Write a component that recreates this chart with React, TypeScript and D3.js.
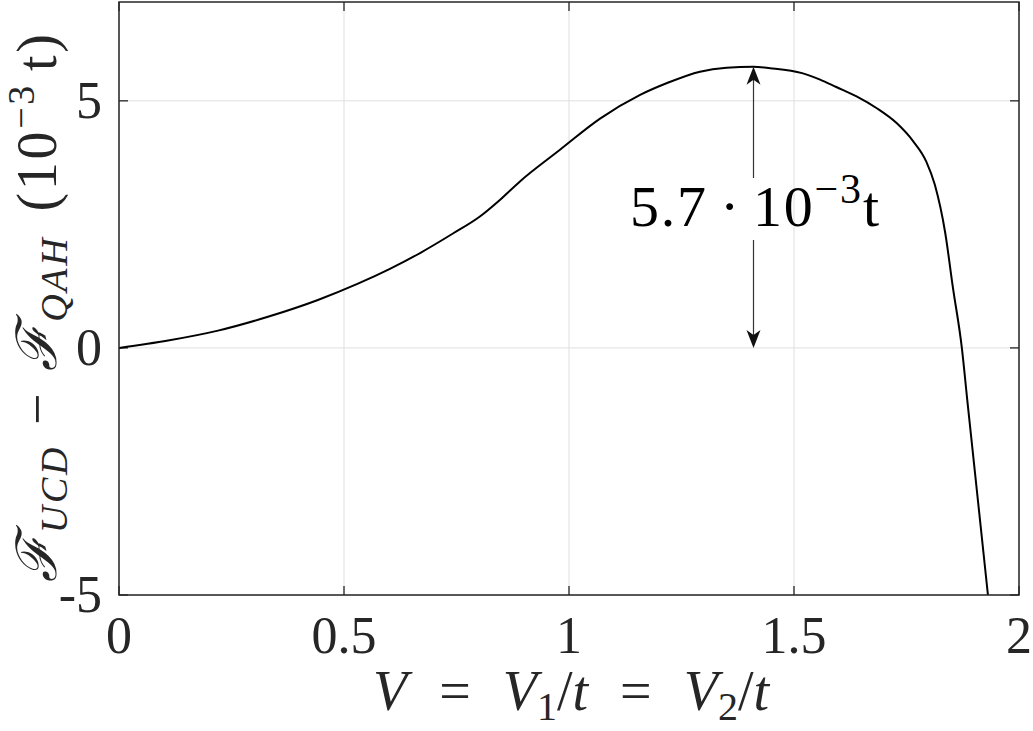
import React from "react";
import * as d3 from "d3";

const vValues = [0, 0.109, 0.22, 0.331, 0.442, 0.531, 0.602, 0.669, 0.743, 0.802, 0.847, 0.891, 0.98, 1.069, 1.158, 1.218, 1.291, 1.35, 1.41, 1.447, 1.518, 1.558, 1.594, 1.639, 1.684, 1.728, 1.765, 1.794, 1.813, 1.836, 1.853, 1.873, 1.885, 1.931];
const fDiff = [0, 0.15, 0.35, 0.63, 0.97, 1.30, 1.60, 1.92, 2.32, 2.66, 3.0, 3.37, 4.01, 4.64, 5.12, 5.36, 5.59, 5.67, 5.69, 5.66, 5.56, 5.43, 5.28, 5.09, 4.85, 4.55, 4.18, 3.77, 3.30, 2.33, 1.23, 0, -1.05, -5];
const xTicks = [0, 0.5, 1, 1.5, 2];
const xTickLabels = ["0", "0.5", "1", "1.5", "2"];
const yTicks = [-5, 0, 5];
const yTickLabels = ["-5", "0", "5"];
const peakV = 1.41;
const peakF = 5.69;

const W = 1033, H = 731;
const L = 119, R = 1019, T = 2, B = 595;
const FONT = "'Liberation Serif', 'DejaVu Serif', serif";

export default function App() {
  const x = d3.scaleLinear().domain([0, 2]).range([L, R]);
  const y = d3.scaleLinear().domain([-5, 7]).range([B, T]);
  const pts = vValues.map((v, i) => [v, fDiff[i]] as [number, number]);
  const line = d3.line<[number, number]>().x(d => x(d[0])).y(d => y(d[1])).curve(d3.curveMonotoneX);
  const ax = x(peakV);
  const topY = y(peakF);
  const botY = y(0);
  const headL = 18, headW = 7, notch = 5;
  const upHead = `M${ax},${topY} L${ax - headW},${topY + headL} L${ax},${topY + headL - notch} L${ax + headW},${topY + headL} Z`;
  const downHead = `M${ax},${botY} L${ax - headW},${botY - headL} L${ax},${botY - headL + notch} L${ax + headW},${botY - headL} Z`;
  return (
    <svg width={W} height={H} style={{ position: "absolute", left: 0, top: 0, background: "#fff" }}>
      <defs>
        <clipPath id="plotclip"><rect x={L} y={T} width={R - L} height={B - T} /></clipPath>
      </defs>
      <rect x={0} y={0} width={W} height={H} fill="#fff" />
      {xTicks.map(t => (
        <line key={"gx" + t} x1={x(t)} x2={x(t)} y1={T} y2={B} stroke="#dfdfdf" strokeWidth={1} />
      ))}
      {yTicks.map(t => (
        <line key={"gy" + t} x1={L} x2={R} y1={y(t)} y2={y(t)} stroke="#dfdfdf" strokeWidth={1} />
      ))}
      {xTicks.map(t => (
        <g key={"tx" + t}>
          <line x1={x(t)} x2={x(t)} y1={B} y2={B - 9} stroke="#262626" strokeWidth={1.3} />
          <line x1={x(t)} x2={x(t)} y1={T} y2={T + 9} stroke="#262626" strokeWidth={1.3} />
        </g>
      ))}
      {yTicks.map(t => (
        <g key={"ty" + t}>
          <line x1={L} x2={L + 9} y1={y(t)} y2={y(t)} stroke="#262626" strokeWidth={1.3} />
          <line x1={R} x2={R - 9} y1={y(t)} y2={y(t)} stroke="#262626" strokeWidth={1.3} />
        </g>
      ))}
      <path d={line(pts) || ""} fill="none" stroke="#000" strokeWidth={2} clipPath="url(#plotclip)" />
      <rect x={L} y={T} width={R - L} height={B - T} fill="none" stroke="#262626" strokeWidth={1.5} />
      {xTicks.map((t, i) => (
        <text key={"lx" + t} x={x(t)} y={653} textAnchor="middle" fontFamily={FONT} fontSize={52} fill="#262626">{xTickLabels[i]}</text>
      ))}
      {yTicks.map((t, i) => (
        <text key={"ly" + t} x={102} y={y(t) + 17} textAnchor="end" fontFamily={FONT} fontSize={52} fill="#262626">{yTickLabels[i]}</text>
      ))}
      <text x={(L + R) / 2 + 2} y={710} textAnchor="middle" fontFamily={FONT} fontSize={56} fill="#262626">
        <tspan fontStyle="italic">V</tspan>
        <tspan dx={32}>=</tspan>
        <tspan dx={32} fontStyle="italic">V</tspan>
        <tspan fontSize={40} dy={10}>1</tspan>
        <tspan dy={-10}>/</tspan>
        <tspan fontStyle="italic">t</tspan>
        <tspan dx={32}>=</tspan>
        <tspan dx={32} fontStyle="italic">V</tspan>
        <tspan fontSize={40} dy={10}>2</tspan>
        <tspan dy={-10}>/</tspan>
        <tspan fontStyle="italic">t</tspan>
      </text>
      <text transform={`translate(56,308) rotate(-90)`} textAnchor="middle" fontFamily={FONT} fontSize={56} fill="#262626" textLength={548} lengthAdjust="spacing">
        <tspan fontStyle="italic">ℱ</tspan>
        <tspan fontSize={38} fontStyle="italic" dy={11}>UCD</tspan>
        <tspan dy={-11} dx={20}>−</tspan>
        <tspan dx={20} fontStyle="italic">ℱ</tspan>
        <tspan fontSize={38} fontStyle="italic" dy={11}>QAH</tspan>
        <tspan dy={-11} dx={24}>(10</tspan>
        <tspan fontSize={38} dy={-22}>−3</tspan>
        <tspan dy={22} dx={12}>t)</tspan>
      </text>
      <line x1={ax} x2={ax} y1={topY + 10} y2={178} stroke="#333" strokeWidth={1.2} />
      <line x1={ax} x2={ax} y1={240} y2={botY - 10} stroke="#333" strokeWidth={1.2} />
      <path d={upHead} fill="#111" />
      <path d={downHead} fill="#111" />
      <text x={ax + 1} y={226} textAnchor="middle" fontFamily={FONT} fontSize={58} fill="#000" textLength={249} lengthAdjust="spacing">
        <tspan>5.7</tspan>
        <tspan dx={12}>·</tspan>
        <tspan dx={12}>10</tspan>
        <tspan fontSize={42} dy={-23}>−3</tspan>
        <tspan dy={23}>t</tspan>
      </text>
    </svg>
  );
}
